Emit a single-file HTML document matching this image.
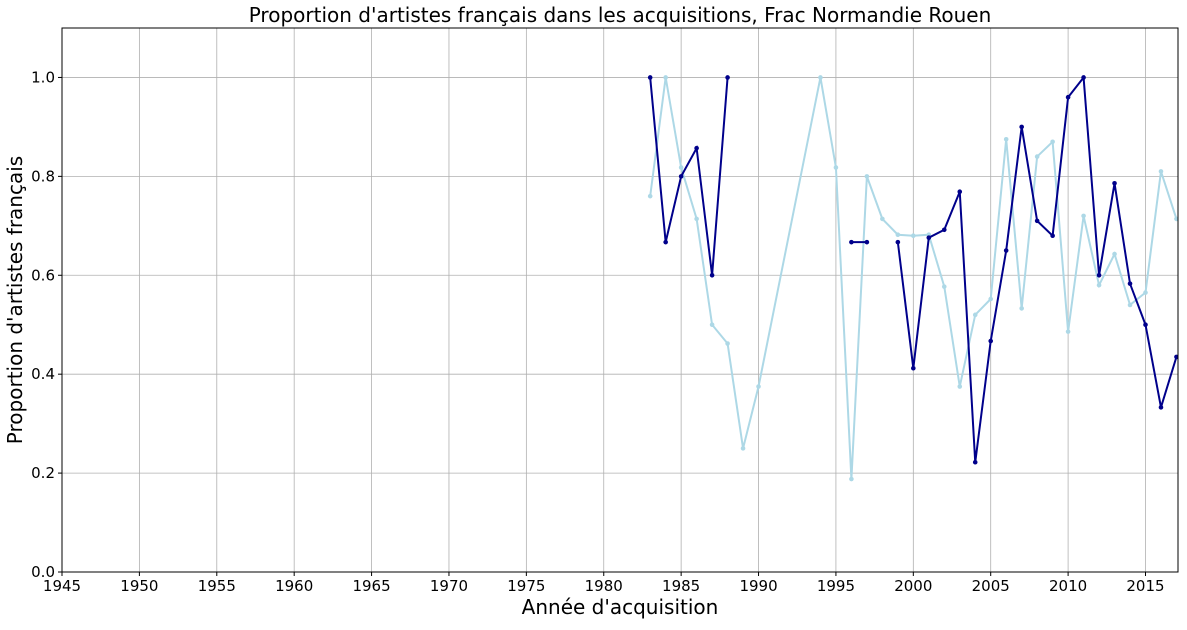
<!DOCTYPE html>
<html><head><meta charset="utf-8"><style>
body{margin:0;background:#fff;font-family:"Liberation Sans","DejaVu Sans",sans-serif}
text{font-family:"DejaVu Sans","Liberation Sans",sans-serif}
</style></head><body>
<svg id="c" width="1187" height="625" xmlns="http://www.w3.org/2000/svg"></svg>
<script>
const lightYears=[1983,1984,1985,1986,1987,1988,1989,1990,1994,1995,1996,1997,1998,1999,2000,2001,2002,2003,2004,2005,2006,2007,2008,2009,2010,2011,2012,2013,2014,2015,2016,2017];
const lightValues=[0.76,1.0,0.818,0.714,0.5,0.462,0.25,0.375,1.0,0.818,0.188,0.8,0.714,0.682,0.68,0.682,0.577,0.375,0.52,0.552,0.875,0.533,0.84,0.87,0.486,0.72,0.58,0.643,0.54,0.565,0.81,0.714];
const darkYears=[1983,1984,1985,1986,1987,1988,1989,1996,1997,1998,1999,2000,2001,2002,2003,2004,2005,2006,2007,2008,2009,2010,2011,2012,2013,2014,2015,2016,2017];
const darkValues=[1.0,0.667,0.8,0.857,0.6,1.0,null,0.667,0.667,null,0.667,0.412,0.676,0.692,0.769,0.222,0.467,0.65,0.9,0.71,0.68,0.96,1.0,0.6,0.786,0.583,0.5,0.333,0.435];
const xTicks=[1945,1950,1955,1960,1965,1970,1975,1980,1985,1990,1995,2000,2005,2010,2015];
const yTicks=[0.0,0.2,0.4,0.6,0.8,1.0];
const L=62,R=1178,T=28,B=572,X0=1945,X1=2017.1,Y0=0,Y1=1.1;
const sx=v=>L+(v-X0)/(X1-X0)*(R-L), sy=v=>B-(v-Y0)/(Y1-Y0)*(B-T);
const svg=document.getElementById('c');const NS='http://www.w3.org/2000/svg';
function mk(t,a,p){const e=document.createElementNS(NS,t);for(const k in a)e.setAttribute(k,a[k]);(p||svg).appendChild(e);return e;}
const defs=mk('clipPath',{id:'clip'});mk('rect',{x:L,y:T,width:R-L,height:B-T},defs);
xTicks.forEach(v=>{const x=sx(v);
const g=mk('line',{x1:x,x2:x,y1:T,y2:B,stroke:'#b0b0b0','stroke-width':0.8});


mk('line',{x1:x,x2:x,y1:B,y2:B+4,stroke:'#000'});
const t=mk('text',{x:x,y:B+19,'text-anchor':'middle','font-size':15});t.textContent=v;

});
yTicks.forEach(v=>{const y=sy(v);
const g=mk('line',{x1:L,x2:R,y1:y,y2:y,stroke:'#b0b0b0','stroke-width':0.8});


mk('line',{x1:L-4,x2:L,y1:y,y2:y,stroke:'#000'});
const t=mk('text',{x:L-7,y:y+5,'text-anchor':'end','font-size':15});t.textContent=v.toFixed(1);

});
function series(xs,ys,color,name){
 const g=mk('g',{'clip-path':'url(#clip)'});
 
 
 let d='',pen=false;
 xs.forEach((x,i)=>{const v=ys[i];if(v==null){pen=false;return;}d+=(pen?'L':'M')+sx(x)+','+sy(v);pen=true;});
 mk('path',{d:d,fill:'none',stroke:color,'stroke-width':2},g);
 xs.forEach((x,i)=>{const v=ys[i];if(v==null)return;
  const c=mk('circle',{cx:sx(x),cy:sy(v),r:2.3,fill:color},g);
  
  });
}
series(lightYears,lightValues,'#add8e6','series-light');
series(darkYears,darkValues,'#00008b','series-dark');
const fr=mk('rect',{x:L,y:T,width:R-L,height:B-T,fill:'none',stroke:'#000','stroke-width':1});


const ti=mk('text',{x:(L+R)/2,y:22,'text-anchor':'middle','font-size':20});ti.textContent="Proportion d'artistes français dans les acquisitions, Frac Normandie Rouen";


const xl=mk('text',{x:(L+R)/2,y:614,'text-anchor':'middle','font-size':20});xl.textContent="Année d'acquisition";


const yl=mk('text',{x:0,y:0,'text-anchor':'middle','font-size':20,transform:'translate(22,'+((T+B)/2)+') rotate(-90)'});yl.textContent="Proportion d'artistes français";


</script>
</body></html>
